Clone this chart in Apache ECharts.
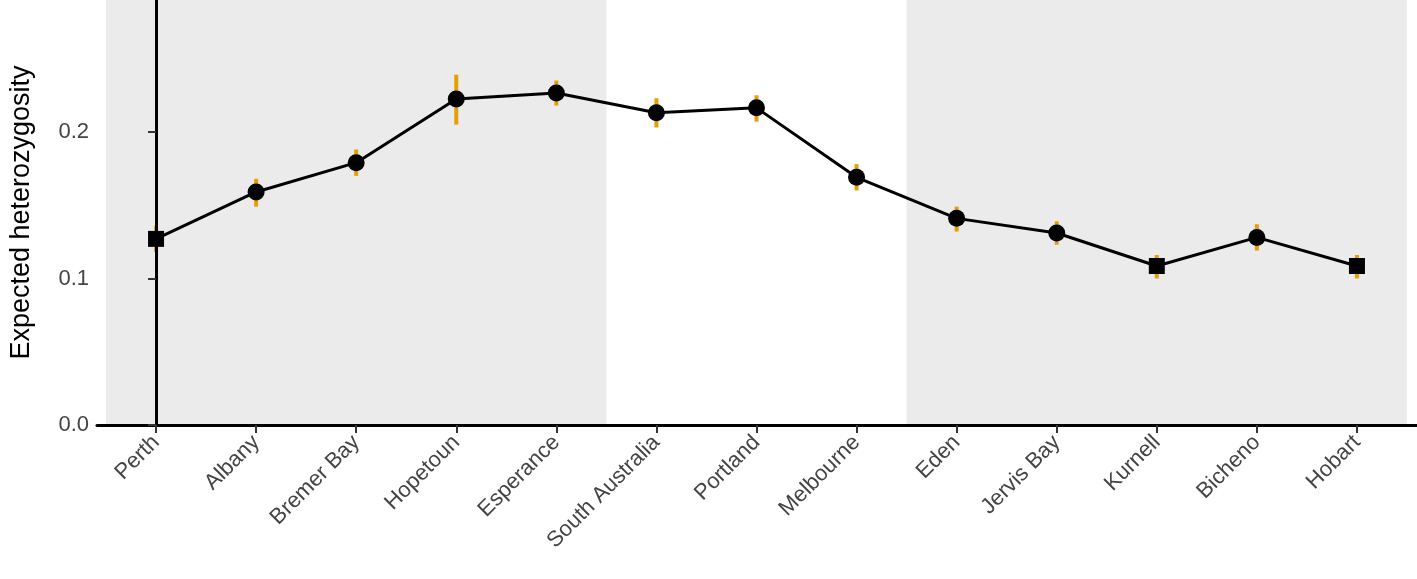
<!DOCTYPE html>
<html><head><meta charset="utf-8">
<script src="https://cdn.jsdelivr.net/npm/echarts@6/dist/echarts.min.js"></script>
<style>html,body{margin:0;padding:0;background:#fff}#c{width:1417px;height:579px}</style>
</head><body><div id="c"></div>
<script>
const sites = ['Perth','Albany','Bremer Bay','Hopetoun','Esperance','South Australia','Portland','Melbourne','Eden','Jervis Bay','Kurnell','Bicheno','Hobart'];
const he = [0.127,0.159,0.179,0.2225,0.2266,0.213,0.2164,0.169,0.141,0.131,0.1085,0.128,0.1085];
const heLow = [0.118,0.149,0.170,0.205,0.218,0.203,0.207,0.160,0.132,0.123,0.100,0.119,0.100];
const heHigh = [0.136,0.168,0.188,0.239,0.235,0.223,0.225,0.178,0.149,0.139,0.116,0.137,0.116];
const squares = ['Perth','Kurnell','Hobart'];
const regions = ['WESTERN','CENTRAL','EASTERN'];
const regionPos = [2, 6, 10];

const chart = echarts.init(document.getElementById('c'));
const idx = sites.map((s, i) => i);
chart.setOption({
  animation: false,
  grid: {left: 93, right: 0, top: 0, bottom: 154},
  xAxis: {
    type: 'value', min: -0.59, max: 12.6, z: 10,
    axisLine: {lineStyle: {color: '#000', width: 3}},
    axisTick: {show: true, customValues: idx, length: 8, lineStyle: {color: '#333', width: 2}},
    axisLabel: {customValues: idx, rotate: 45, formatter: v => sites[Math.round(v)],
      color: '#444', fontSize: 22, fontFamily: 'Liberation Sans', margin: 14},
    splitLine: {show: false}
  },
  yAxis: {
    type: 'value', min: 0, max: 0.29, z: 10,
    name: 'Expected heterozygosity', nameLocation: 'middle', nameGap: 62,
    nameTextStyle: {fontSize: 27, color: '#000', fontFamily: 'Liberation Sans'},
    axisLine: {show: true, lineStyle: {color: '#000', width: 3}},
    axisTick: {show: true, customValues: [0, 0.1, 0.2], length: 8, lineStyle: {color: '#333', width: 2}},
    axisLabel: {customValues: [0, 0.1, 0.2], formatter: v => v.toFixed(1),
      color: '#444', fontSize: 22, fontFamily: 'Liberation Sans'},
    splitLine: {show: false}
  },
  series: [
    {
      type: 'line', data: [], silent: true, z: 0,
      markArea: {silent: true, itemStyle: {color: '#ebebeb'},
        data: [[{xAxis: -0.5, yAxis: 0}, {xAxis: 4.5, yAxis: 0.29}],
               [{xAxis: 7.5, yAxis: 0}, {xAxis: 12.5, yAxis: 0.29}]]}
    },
    {
      type: 'scatter', symbolSize: 1, silent: true, itemStyle: {opacity: 0},
      data: regions.map((r, i) => ({value: [regionPos[i], 0.262], name: r})),
      label: {show: true, formatter: p => p.name, position: 'top',
        fontSize: 25, color: '#000', fontFamily: 'Liberation Sans'}
    },
    {
      type: 'custom', z: 3,
      data: idx.map(i => [i, heLow[i], heHigh[i]]),
      renderItem: (params, api) => {
        const a = api.coord([api.value(0), api.value(1)]);
        const b = api.coord([api.value(0), api.value(2)]);
        return {type: 'line', shape: {x1: a[0], y1: a[1], x2: b[0], y2: b[1]},
          style: {stroke: '#E69F00', lineWidth: 4}};
      }
    },
    {
      type: 'line', z: 4,
      data: idx.map(i => ({value: [i, he[i]],
        symbol: squares.includes(sites[i]) ? 'rect' : 'circle',
        symbolSize: squares.includes(sites[i]) ? 16 : 17})),
      lineStyle: {color: '#000', width: 3},
      itemStyle: {color: '#000'}
    }
  ]
});
</script></body></html>
